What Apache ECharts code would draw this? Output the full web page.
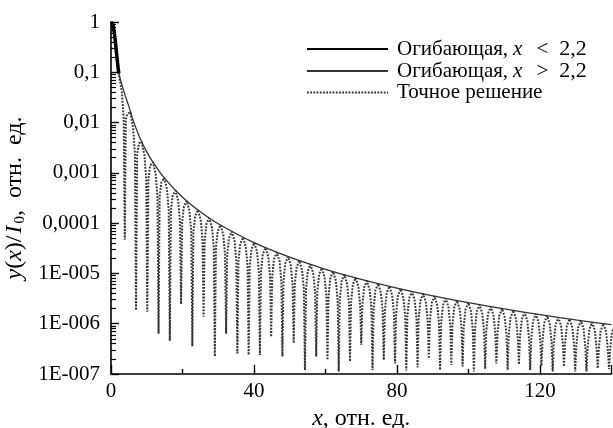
<!DOCTYPE html>
<html><head><meta charset="utf-8">
<script src="https://cdn.jsdelivr.net/npm/echarts@6/dist/echarts.min.js"></script>
<style>html,body{margin:0;padding:0;background:#fff}#c{width:613px;height:428px}</style>
</head><body><div id="c"></div>
<script>
// Envelope, x < 2.2 (thick)
const envLowX = [0, 0.4, 0.8, 1.2, 1.6, 2.0, 2.2];
const envLowY = [1, 0.93, 0.7, 0.42, 0.22, 0.12, 0.095];
// Envelope, x > 2.2 (thin)
const envHighX = [2.2, 3, 4, 5, 6, 8, 10, 12, 15, 20, 25, 30, 40, 50, 60, 70, 80, 90, 100, 110, 120, 130, 140];
const envHighY = [0.095, 0.058, 0.034, 0.021, 0.0121, 0.0051, 0.00262, 0.00152, 7.76e-4, 3.28e-4, 1.68e-4, 9.7e-5, 4.09e-5, 2.1e-5, 1.21e-5, 7.64e-6, 5.12e-6, 3.59e-6, 2.62e-6, 1.97e-6, 1.52e-6, 1.19e-6, 9.55e-7];
// Exact solution: initial part before first dip
const exactStartX = [0, 0.5, 1.0, 1.5, 2.0, 2.5];
const exactStartY = [1, 0.86, 0.52, 0.24, 0.11, 0.068];
// Exact solution: dips (minima)
const dipX = [3.85,7.00,10.15,13.30,16.45,19.60,22.75,25.90,29.05,32.20,35.35,38.50,41.65,44.80,47.95,51.10,54.25,57.40,60.55,63.70,66.85,70.00,73.15,76.30,79.45,82.60,85.75,88.90,92.05,95.20,98.35,101.50,104.65,107.80,110.95,114.10,117.25,120.40,123.55,126.70,129.85,133.00,136.15,139.30];
const dipY = [4.7e-5,1.86e-6,1.74e-6,6.3e-7,4.6e-7,2.45e-6,3.55e-7,1.38e-6,2.24e-7,6.3e-7,2.57e-7,2.4e-7,2.4e-7,5.5e-7,2.24e-7,4.1e-7,1.2e-7,2.24e-7,1.9e-7,1.12e-7,1.78e-7,3.8e-7,1.2e-7,1.9e-7,1.62e-7,1.17e-7,1.35e-7,2.04e-7,1.2e-7,1.51e-7,1.41e-7,1.12e-7,1.26e-7,1.62e-7,1.2e-7,1.55e-7,1.2e-7,1.45e-7,1.12e-7,1.41e-7,1.12e-7,1.12e-7,1.29e-7,1.26e-7];
// Flanks of each dip: value 0.8 before / after the minimum, and 0.3 on both sides
const flankFarL = [0.04,0.0077,0.00224,9.4e-4,4.8e-4,2.76e-4,1.73e-4,1.16e-4,8.1e-5,5.9e-5,4.45e-5,3.42e-5,2.69e-5,2.15e-5,1.75e-5,1.44e-5,1.15e-5,9.7e-6,8.3e-6,7.1e-6,6.1e-6,5.35e-6,4.7e-6,4.13e-6,3.65e-6,3.26e-6,2.91e-6,2.61e-6,2.35e-6,2.13e-6,1.93e-6,1.76e-6,1.6e-6,1.46e-6,1.34e-6,1.23e-6,1.14e-6,1.05e-6,9.7e-7,9.0e-7,8.4e-7,7.8e-7,7.3e-7,6.8e-7];
const flankFarR = [0.015,0.00386,0.0014,6.5e-4,3.57e-4,2.16e-4,1.40e-4,9.6e-5,6.9e-5,5.1e-5,3.88e-5,3.02e-5,2.40e-5,1.93e-5,1.58e-5,1.31e-5,1.12e-5,9.5e-6,8.1e-6,7.0e-6,6.0e-6,5.25e-6,4.6e-6,4.06e-6,3.6e-6,3.21e-6,2.87e-6,2.58e-6,2.32e-6,2.1e-6,1.91e-6,1.74e-6,1.58e-6,1.45e-6,1.33e-6,1.22e-6,1.13e-6,1.04e-6,9.6e-7,8.9e-7,8.3e-7,7.7e-7,7.2e-7,6.7e-7];
const flankNear = [0.012,2.29e-3,7.5e-4,3.34e-4,1.77e-4,1.04e-4,6.7e-5,4.5e-5,3.2e-5,2.36e-5,1.78e-5,1.38e-5,1.09e-5,8.7e-6,7.1e-6,5.9e-6,4.9e-6,4.2e-6,3.5e-6,3.0e-6,2.63e-6,2.29e-6,2.0e-6,1.77e-6,1.57e-6,1.4e-6,1.25e-6,1.12e-6,1.01e-6,9.1e-7,8.3e-7,7.5e-7,6.9e-7,6.3e-7,5.8e-7,5.3e-7,4.9e-7,4.5e-7,4.2e-7,3.9e-7,3.6e-7,3.3e-7,3.1e-7,2.9e-7];
const flankFarDx = 0.8, flankNearDx = 0.3;
// Exact solution: maxima (touching the envelope)
const peakX = [5.43,8.58,11.73,14.88,18.03,21.18,24.33,27.48,30.63,33.78,36.93,40.08,43.23,46.38,49.53,52.68,55.83,58.98,62.13,65.28,68.43,71.58,74.73,77.88,81.03,84.18,87.33,90.48,93.63,96.78,99.93,103.08,106.23,109.38,112.53,115.68,118.83,121.98,125.13,128.28,131.43,134.58,137.73,140.88];
const peakY = [0.0162,4.16e-3,1.63e-3,7.96e-4,4.47e-4,2.76e-4,1.82e-4,1.26e-4,9.12e-5,6.80e-5,5.20e-5,4.07e-5,3.24e-5,2.63e-5,2.16e-5,1.79e-5,1.51e-5,1.28e-5,1.09e-5,9.42e-6,8.18e-6,7.15e-6,6.28e-6,5.55e-6,4.93e-6,4.39e-6,3.93e-6,3.54e-6,3.19e-6,2.89e-6,2.63e-6,2.39e-6,2.19e-6,2.00e-6,1.84e-6,1.69e-6,1.56e-6,1.44e-6,1.34e-6,1.24e-6,1.15e-6,1.07e-6,1.00e-6,9.37e-7];
// Axis tick labels
const xTickLabels = ['0', '40', '80', '120'];
const yTickLabels = ['1E-007','1E-006','1E-005','0,0001','0,001','0,01','0,1','1'];
const seriesNames = ['Огибающая, x < 2,2', 'Огибающая, x > 2,2', 'Точное решение'];

const FONT = 'Liberation Serif';
const pairs = (xs, ys) => xs.map((x, i) => [x, ys[i]]);
const exactData = pairs(exactStartX, exactStartY);
dipX.forEach((x, i) => {
  exactData.push([x - flankFarDx, flankFarL[i]]);
  exactData.push([x - flankNearDx, flankNear[i]]);
  exactData.push([x, dipY[i]]);
  exactData.push([x + flankNearDx, flankNear[i]]);
  exactData.push([x + flankFarDx, flankFarR[i]]);
  exactData.push([peakX[i], peakY[i]]);
});
const minorTicks = [];
for (let e = -7; e < 0; e++) for (let m = 2; m <= 9; m++) minorTicks.push(m * Math.pow(10, e));

const legendRich = {
  r: {fontFamily: FONT, fontSize: 21, color: '#000', lineHeight: 21},
  f: {fontFamily: FONT, fontSize: 21, color: '#000', lineHeight: 21, padding: [0, 0, 0, 4]},
  i: {fontFamily: FONT, fontSize: 21, fontStyle: 'italic', color: '#000', lineHeight: 21, padding: [0, 0, 0, 5]},
  m: {fontFamily: FONT, fontSize: 21, color: '#000', lineHeight: 21, padding: [0, 11, 0, 14]},
  d: {fontFamily: FONT, fontSize: 22, color: '#000', lineHeight: 21, padding: [0, 0, 0, 0]}
};
const nameRich = {
  r: {fontFamily: FONT, fontSize: 24, color: '#000'},
  i: {fontFamily: FONT, fontSize: 24, fontStyle: 'italic', color: '#000'},
  ip: {fontFamily: FONT, fontSize: 24, fontStyle: 'italic', color: '#000', padding: [0, 2, 0, 2]},
  s: {fontFamily: FONT, fontSize: 15, color: '#000', padding: [10, 0, 0, 0]}
};

const chart = echarts.init(document.getElementById('c'));
chart.setOption({
  animation: false,
  backgroundColor: '#fff',
  grid: {left: 111, right: 1.5, top: 22, bottom: 54, containLabel: false, outerBoundsMode: 'none'},
  legend: {
    orient: 'vertical', left: 306, top: 38, padding: 0,
    itemWidth: 81, itemHeight: 21, itemGap: 0,
    itemStyle: {opacity: 0},
    data: seriesNames,
    formatter: function (name) {
      if (name === seriesNames[0]) return '{f|Огибающая,}{i|x}{m|<}{d|2,2}';
      if (name === seriesNames[1]) return '{f|Огибающая,}{i|x}{m|>}{d|2,2}';
      return '{f|' + name + '}';
    },
    textStyle: {fontFamily: FONT, fontSize: 21, color: '#000', rich: legendRich}
  },
  xAxis: {
    type: 'value', min: 0, max: 140, interval: 40,
    axisLine: {lineStyle: {color: '#000', width: 1.6}},
    axisTick: {inside: true, length: 9, lineStyle: {color: '#000', width: 1.4}},
    minorTick: {show: true, splitNumber: 2, length: 5, lineStyle: {color: '#000', width: 1.4}},
    splitLine: {show: false},
    axisLabel: {color: '#000', fontFamily: FONT, fontSize: 21, margin: 7,
      formatter: v => xTickLabels[Math.round(v / 40)] || ''},
    name: '{i|x}{r|, отн. ед.}', nameLocation: 'middle', nameGap: 27,
    nameTextStyle: {rich: nameRich}
  },
  yAxis: [{
    type: 'log', logBase: 10, min: 1e-7, max: 1, position: 'left',
    axisLine: {show: true, lineStyle: {color: '#000', width: 1.6}},
    axisTick: {show: true, inside: true, length: 8, lineStyle: {color: '#000', width: 1.4}},
    splitLine: {show: false},
    axisLabel: {color: '#000', fontFamily: FONT, fontSize: 21, margin: 11,
      formatter: v => yTickLabels[Math.round(Math.log10(v)) + 7]},
    name: '{i|y}{r|(}{i|x}{r|)/}{ip|I}{s|0}{r|,  отн.  ед.}', nameLocation: 'middle', nameGap: 75,
    nameTextStyle: {rich: nameRich}
  }, {
    type: 'log', logBase: 10, min: 1e-7, max: 1, position: 'left', offset: 0,
    axisLine: {show: false},
    axisTick: {show: true, inside: true, length: 5, customValues: minorTicks, lineStyle: {color: '#000', width: 1.2}},
    axisLabel: {show: false},
    splitLine: {show: false}
  }],
  series: [{
    name: seriesNames[0], type: 'line', data: pairs(envLowX, envLowY),
    symbol: 'none', smooth: 0.3, z: 4,
    lineStyle: {color: '#000', width: 3.5}, itemStyle: {color: '#000'}
  }, {
    name: seriesNames[1], type: 'line', data: pairs(envHighX, envHighY),
    symbol: 'none', smooth: 0.3, z: 3,
    lineStyle: {color: '#333', width: 1.3}, itemStyle: {color: '#333'}
  }, {
    name: seriesNames[2], type: 'line', data: exactData,
    symbol: 'none', z: 2,
    lineStyle: {color: '#333', width: 2, type: [1.8, 1.4]}, itemStyle: {color: '#333'}
  }]
});
</script></body></html>
